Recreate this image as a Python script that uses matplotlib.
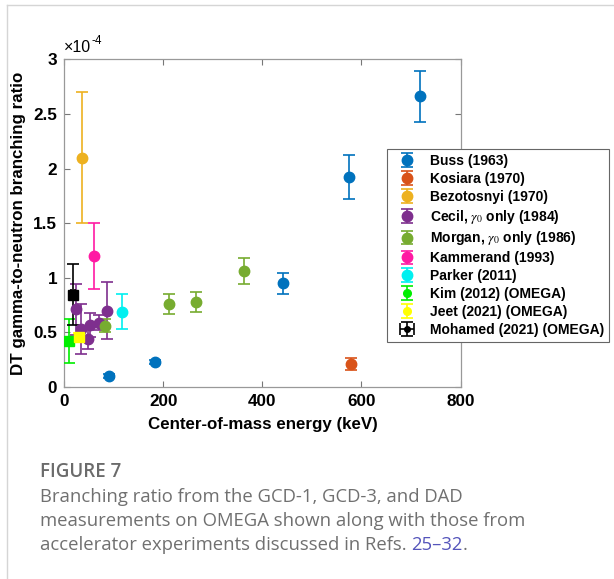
import matplotlib
matplotlib.use("Agg")
import matplotlib.pyplot as plt
from matplotlib.lines import Line2D
from matplotlib.ticker import FuncFormatter
from matplotlib.legend_handler import HandlerErrorbar

plt.rcParams['font.family'] = ['Liberation Sans', 'DejaVu Sans']
plt.rcParams['mathtext.fontset'] = 'stix'

# ---- data (branching ratio in units of 1e-4) ----
buss_x = [90, 183, 442, 575, 719]
buss_y = [0.10, 0.23, 0.95, 1.92, 2.66]
buss_e = [0.02, 0.02, 0.095, 0.20, 0.23]

kos_x = [579]
kos_y = [0.21]
kos_e = [0.055]

bez_x = [36]
bez_y = [2.10]
bez_e = [0.60]

cecil_x = [24, 34, 47, 51, 71, 86]
cecil_y = [0.71, 0.53, 0.44, 0.57, 0.59, 0.70]
cecil_e = [0.23, 0.23, 0.09, 0.11, 0.07, 0.26]

morgan_x = [82, 211, 265, 362]
morgan_y = [0.56, 0.76, 0.78, 1.06]
morgan_e = [0.06, 0.09, 0.09, 0.12]

kam_x = [60]
kam_y = [1.20]
kam_e = [0.30]

parker_x = [116]
parker_y = [0.69]
parker_e = [0.16]

kim_x = [9.5]
kim_y = [0.42]
kim_e = [0.20]

jeet_x = [30]
jeet_y = [0.46]
jeet_e = [0.03]

moh_x = [17]
moh_y = [0.845]
moh_e = [0.28]
moh_xe = [4]

x_ticks = [0, 200, 400, 600, 800]
y_ticks = [0, 0.5, 1, 1.5, 2, 2.5, 3]

W, H = 614, 579
fig = plt.figure(figsize=(W / 100, H / 100), dpi=100)
ax = fig.add_axes([64.3 / W, 1 - 387 / H, (460.5 - 64.3) / W, (387 - 59.3) / H])

series = [
    (buss_x, buss_y, buss_e, None, '#0072BD', 'o', 'Buss (1963)'),
    (kos_x, kos_y, kos_e, None, '#D95319', 'o', 'Kosiara (1970)'),
    (bez_x, bez_y, bez_e, None, '#EDB120', 'o', 'Bezotosnyi (1970)'),
    (cecil_x, cecil_y, cecil_e, None, '#7E2F8E', 'o', r'Cecil, $\gamma_0$ only (1984)'),
    (morgan_x, morgan_y, morgan_e, None, '#77AC30', 'o', r'Morgan, $\gamma_0$ only (1986)'),
    (kam_x, kam_y, kam_e, None, '#FF1AA3', 'o', 'Kammerand (1993)'),
    (parker_x, parker_y, parker_e, None, '#00F0F0', 'o', 'Parker (2011)'),
    (kim_x, kim_y, kim_e, None, '#00EE00', 's', 'Kim (2012) (OMEGA)'),
    (jeet_x, jeet_y, jeet_e, None, '#FFFF00', 's', 'Jeet (2021) (OMEGA)'),
    (moh_x, moh_y, moh_e, moh_xe, '#000000', 's', 'Mohamed (2021) (OMEGA)'),
]

handles = []
for xs, ys, es, xes, col, mk, lab in series:
    ms = 7.5 if mk == 'o' else 7
    h = ax.errorbar(xs, ys, yerr=es, xerr=xes, fmt=mk, color=col, ecolor=col,
                    markersize=ms, capsize=4, elinewidth=1.2, capthick=1.2,
                    label=lab, zorder=3)
    handles.append(h)

ax.set_xlim(0, 800)
ax.set_ylim(0, 3)
ax.set_xticks(x_ticks)
ax.set_yticks(y_ticks)
ax.yaxis.set_major_formatter(FuncFormatter(lambda v, p: '%g' % v))
ax.tick_params(direction='in', top=True, right=True, length=4, width=0.8,
               color='#777777', labelsize=12.3, pad=5)
for lab in ax.get_xticklabels() + ax.get_yticklabels():
    lab.set_fontweight('bold')
for s in ax.spines.values():
    s.set_color('#999999')
    s.set_linewidth(0.9)

ax.set_xlabel('Center-of-mass energy (keV)', fontsize=12.2, fontweight='bold', labelpad=6)
ax.set_ylabel('DT gamma-to-neutron branching ratio', fontsize=12.2, fontweight='bold', labelpad=5)

# exponent label
t1 = ax.text(0.0, 1.012, '×10', transform=ax.transAxes, fontsize=11.5, ha='left', va='bottom')
ax.annotate('-4', xy=(1, 0.55), xycoords=t1, fontsize=8.5, ha='left', va='bottom')


def make_update(size):
    def upd(artist, orig):
        artist.update_from(orig)
        if isinstance(artist, Line2D) and orig.get_marker() == 's':
            artist.set_marker('o')
            artist.set_markersize(size)
    return upd


hmap = {handles[7]: HandlerErrorbar(update_func=make_update(5.5)),
        handles[8]: HandlerErrorbar(update_func=make_update(5.5)),
        handles[9]: HandlerErrorbar(update_func=make_update(4))}

leg = fig.legend(handles=handles, loc='upper left', handler_map=hmap,
                 bbox_to_anchor=(387 / W, 1 - 149 / H),
                 prop={'weight': 'bold', 'size': 10}, frameon=True, fancybox=False,
                 edgecolor='#666666', framealpha=1, handlelength=2.2, handletextpad=0.55,
                 borderpad=0.35, labelspacing=0.28, borderaxespad=0)
leg.get_frame().set_linewidth(0.8)

# page frame lines
fig.add_artist(Line2D([7 / W, 7 / W], [0, 1 - 5 / H], transform=fig.transFigure,
                      color='#d5d5d5', lw=1))
fig.add_artist(Line2D([7 / W, 1], [1 - 5 / H, 1 - 5 / H], transform=fig.transFigure,
                      color='#d5d5d5', lw=1))

# caption
cap_font = ['Open Sans', 'DejaVu Sans']
fig.text(40 / W, 1 - 472 / H, 'FIGURE 7', fontsize=13.5, family=cap_font,
         fontweight='semibold', color='#6b6b6b', va='center', ha='left')
lines = ['Branching ratio from the GCD-1, GCD-3, and DAD',
         'measurements on OMEGA shown along with those from',
         'accelerator experiments discussed in Refs. ']
ys_cap = [497, 521, 545]
last = None
for ln, yy in zip(lines, ys_cap):
    last = fig.text(40 / W, 1 - yy / H, ln, fontsize=13.3, family=cap_font,
                    color='#707070', va='center', ha='left')
ann = plt.annotate('25–32', xy=(1, 0.5), xycoords=last, fontsize=13.3, family=cap_font,
                   color='#5555bb', va='center', ha='left', annotation_clip=False)
plt.annotate('.', xy=(1, 0.5), xycoords=ann, fontsize=13.3, family=cap_font,
             color='#707070', va='center', ha='left', annotation_clip=False)

fig.savefig('out.png', dpi=100)
